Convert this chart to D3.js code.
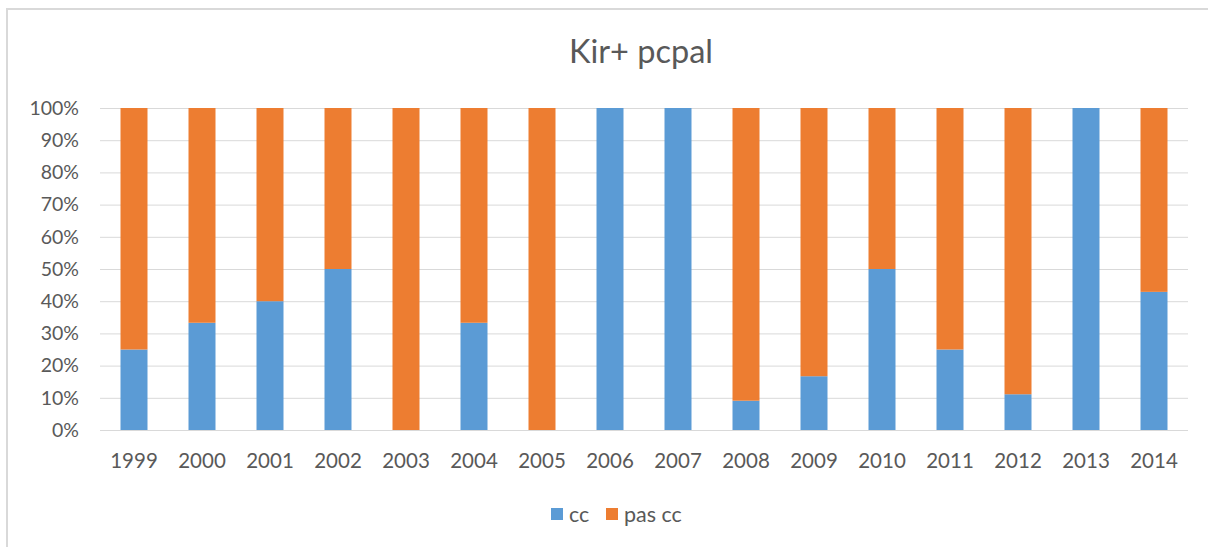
<!DOCTYPE html>
<html>
<head>
<meta charset="utf-8">
<script src="https://cdn.jsdelivr.net/npm/d3@7"></script>
<style>
  html, body { margin: 0; padding: 0; background: #fff; }
  svg { display: block; }
  text { font-family: Lato, "Liberation Sans", sans-serif; fill: #595959; }
</style>
</head>
<body>
<script>
// Yearly share of "cc" vs "pas cc" (percent of total)
const years = ["1999","2000","2001","2002","2003","2004","2005","2006","2007","2008","2009","2010","2011","2012","2013","2014"];
const ccShare = [25, 33.3, 40, 50, 0, 33.3, 0, 100, 100, 9.1, 16.7, 50, 25, 11.1, 100, 42.9];
const pasCcShare = [75, 66.7, 60, 50, 100, 66.7, 100, 0, 0, 90.9, 83.3, 50, 75, 88.9, 0, 57.1];
const seriesNames = ["cc", "pas cc"];
const seriesColors = ["#5B9BD5", "#ED7D31"];
const yTicks = [0, 10, 20, 30, 40, 50, 60, 70, 80, 90, 100];
const title = "Kir+ pcpal";

const W = 1208, H = 547;
const plot = { left: 100, right: 1188, top: 108, bottom: 430 };

const svg = d3.select("body").append("svg").attr("width", W).attr("height", H);

// chart frame (only top/left edges visible)
svg.append("rect")
  .attr("x", 7).attr("y", 9)
  .attr("width", W + 20).attr("height", H + 20)
  .attr("fill", "#fff").attr("stroke", "#d9d9d9").attr("stroke-width", 2);

const rows = years.map((y, i) => ({ year: y, "cc": ccShare[i], "pas cc": pasCcShare[i] }));
const stacked = d3.stack().keys(seriesNames)(rows);

const x = d3.scaleBand().domain(years)
  .range([plot.left, plot.right])
  .paddingInner(0.603).paddingOuter(0.3015);
const y = d3.scaleLinear().domain([0, 100]).range([plot.bottom, plot.top]);

// gridlines
svg.append("g").selectAll("line").data(yTicks).join("line")
  .attr("x1", plot.left).attr("x2", plot.right)
  .attr("y1", d => y(d) + 0.5).attr("y2", d => y(d) + 0.5)
  .attr("stroke", "#d9d9d9").attr("stroke-width", 1);

// y axis labels
const yAxis = d3.axisLeft(y).tickValues(yTicks).tickFormat(d => d + "%").tickSize(0).tickPadding(0);
const yg = svg.append("g").attr("transform", `translate(${plot.left - 21},0)`).call(yAxis);
yg.select(".domain").remove();
yg.selectAll("text").attr("font-size", 19.5).attr("fill", "#595959")
  .attr("font-family", "Lato, 'Liberation Sans', sans-serif");

// bars
svg.append("g").selectAll("g").data(stacked).join("g")
  .attr("fill", (d, i) => seriesColors[i])
  .selectAll("rect").data(d => d).join("rect")
  .attr("x", d => x(d.data.year))
  .attr("width", x.bandwidth())
  .attr("y", d => y(d[1]))
  .attr("height", d => y(d[0]) - y(d[1]));

// x axis labels
const xAxis = d3.axisBottom(x).tickSize(0).tickPadding(0);
const xg = svg.append("g").attr("transform", `translate(0,${plot.bottom + 23})`).call(xAxis);
xg.select(".domain").remove();
xg.selectAll("text").attr("font-size", 20.5).attr("fill", "#595959")
  .attr("font-family", "Lato, 'Liberation Sans', sans-serif");

// title
svg.append("text")
  .attr("x", 641).attr("y", 63)
  .attr("text-anchor", "middle")
  .attr("font-size", 32.5)
  .text(title);

// legend
const legendItems = [
  { name: seriesNames[0], color: seriesColors[0], x: 551 },
  { name: seriesNames[1], color: seriesColors[1], x: 606 }
];
const lg = svg.append("g");
legendItems.forEach(it => {
  lg.append("rect").attr("x", it.x).attr("y", 508).attr("width", 12).attr("height", 12).attr("fill", it.color);
  lg.append("text").attr("x", it.x + 18).attr("y", 522).attr("font-size", 21.5).text(it.name);
});
</script>
</body>
</html>
